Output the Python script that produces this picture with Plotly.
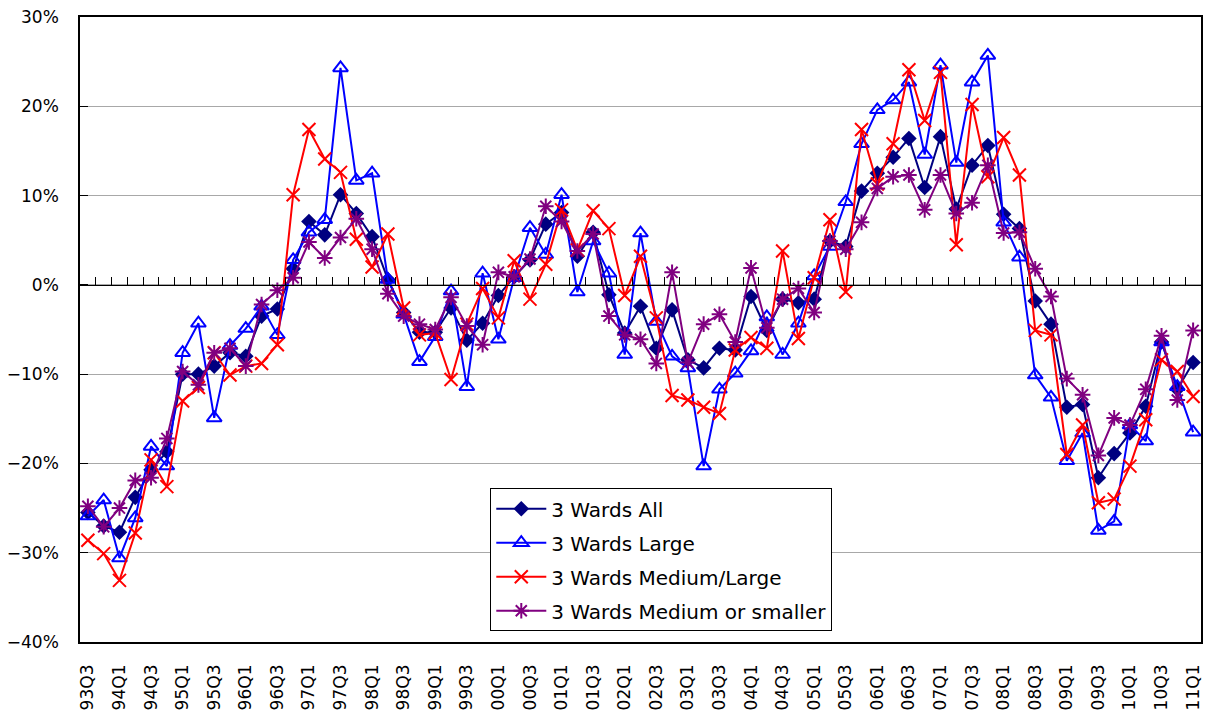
import plotly.graph_objects as go

quarters = [
    "93Q3", "93Q4",
    "94Q1", "94Q2", "94Q3", "94Q4",
    "95Q1", "95Q2", "95Q3", "95Q4",
    "96Q1", "96Q2", "96Q3", "96Q4",
    "97Q1", "97Q2", "97Q3", "97Q4",
    "98Q1", "98Q2", "98Q3", "98Q4",
    "99Q1", "99Q2", "99Q3", "99Q4",
    "00Q1", "00Q2", "00Q3", "00Q4",
    "01Q1", "01Q2", "01Q3", "01Q4",
    "02Q1", "02Q2", "02Q3", "02Q4",
    "03Q1", "03Q2", "03Q3", "03Q4",
    "04Q1", "04Q2", "04Q3", "04Q4",
    "05Q1", "05Q2", "05Q3", "05Q4",
    "06Q1", "06Q2", "06Q3", "06Q4",
    "07Q1", "07Q2", "07Q3", "07Q4",
    "08Q1", "08Q2", "08Q3", "08Q4",
    "09Q1", "09Q2", "09Q3", "09Q4",
    "10Q1", "10Q2", "10Q3", "10Q4",
    "11Q1",
]

tick_labels = [
    "93Q3", "94Q1", "94Q3", "95Q1", "95Q3", "96Q1", "96Q3", "97Q1", "97Q3",
    "98Q1", "98Q3", "99Q1", "99Q3", "00Q1", "00Q3", "01Q1", "01Q3", "02Q1",
    "02Q3", "03Q1", "03Q3", "04Q1", "04Q3", "05Q1", "05Q3", "06Q1", "06Q3",
    "07Q1", "07Q3", "08Q1", "08Q3", "09Q1", "09Q3", "10Q1", "10Q3", "11Q1",
]

wards_all = [
    -25.5, -27.0, -27.7, -23.8, -20.7, -18.7, -10.0, -10.0, -9.1, -7.6, -8.0, -3.5, -2.7,
    1.8, 7.1, 5.6, 10.1, 8.0, 5.4, 0.6, -3.1, -5.3, -5.3, -2.6,
    -6.2, -4.3, -1.2, 0.9, 2.8, 6.8, 8.1, 3.2, 5.9, -1.1, -5.4, -2.4,
    -7.1, -2.8, -8.4, -9.3, -7.1, -7.3, -1.3, -5.1, -1.6, -2.0, -1.6, 4.9, 4.3,
    10.5, 12.5, 14.3, 16.4, 10.9, 16.6, 8.5, 13.4, 15.6,
    7.9, 6.3, -1.8, -4.4, -13.7, -13.4, -21.6, -18.9, -16.6, -13.6, -6.4, -11.7, -8.7,
]

wards_large = [
    -25.9, -24.1, -30.6, -26.1, -18.1, -20.3, -7.6, -4.3, -14.9, -6.8, -4.9, -2.4, -5.6,
    2.8, 5.9, 7.3, 24.3, 11.7, 12.5, 0.6, -3.3, -8.6, -5.8, -0.7,
    -11.4, 1.3, -6.1, 0.8, 6.4, 3.4, 10.1, -0.8, 4.9, 1.3, -7.8, 5.8,
    -4.1, -8.0, -9.3, -20.3, -11.7, -9.9, -7.4, -3.6, -7.8, -4.3, 1.0, 4.3, 9.3,
    15.8, 19.6, 20.7, 22.7, 14.6, 24.6, 13.7, 22.7, 25.7,
    7.0, 3.1, -10.1, -12.6, -19.7, -16.6, -27.5, -26.5, -15.7, -17.5, -6.4, -11.4, -16.5,
]

wards_med_large = [
    -28.6, -30.1, -33.1, -27.8, -19.6, -22.6, -13.0, -11.5, -7.6, -10.1, -9.1, -8.8, -6.7,
    10.1, 17.4, 14.1, 12.6, 5.1, 2.0, 5.7, -2.6, -5.6, -5.4, -10.6,
    -4.4, -0.4, -3.7, 2.7, -1.6, 2.3, 8.4, 3.9, 8.3, 6.3, -1.2, 3.2,
    -3.7, -12.4, -12.9, -13.7, -14.4, -7.3, -5.9, -7.1, 3.8, -6.0, 0.8, 7.3, -0.8,
    17.4, 11.3, 15.8, 24.1, 18.4, 23.8, 4.5, 20.2, 12.1,
    16.5, 12.3, -5.1, -5.6, -19.0, -15.7, -24.4, -24.0, -20.3, -15.1, -8.4, -9.7, -12.5,
]

wards_med_small = [
    -24.8, -27.1, -25.0, -21.9, -21.6, -17.2, -9.7, -11.2, -7.6, -7.1, -9.1, -2.2, -0.6,
    0.8, 4.8, 3.0, 5.3, 7.4, 4.0, -1.0, -3.5, -4.4, -5.0, -1.4,
    -4.6, -6.7, 1.4, 0.9, 2.9, 8.8, 7.1, 3.8, 5.7, -3.5, -5.6, -6.1,
    -8.8, 1.4, -8.7, -4.4, -3.3, -6.4, 1.9, -4.8, -1.6, -0.4, -3.1, 4.9, 4.0,
    7.0, 10.8, 12.1, 12.3, 8.4, 12.3, 8.0, 9.2, 13.4,
    5.8, 5.9, 1.8, -1.3, -10.5, -12.3, -19.1, -14.9, -15.7, -11.7, -5.7, -12.9, -5.1,
]

series_names = [
    "3 Wards All",
    "3 Wards Large",
    "3 Wards Medium/Large",
    "3 Wards Medium or smaller",
]

FONT = "DejaVu Sans"
y_min, y_max = -40, 30

fig = go.Figure()

styles = [
    (wards_all, "#000080", dict(symbol="diamond", size=12, color="#000080",
                                line=dict(width=0))),
    (wards_large, "#0000FF", dict(symbol="triangle-up-open", size=13, color="#0000FF",
                                  line=dict(width=2, color="#0000FF"))),
    (wards_med_large, "#FF0000", dict(symbol="x-thin-open", size=13, color="#FF0000",
                                      line=dict(width=2, color="#FF0000"))),
    (wards_med_small, "#800080", dict(symbol="asterisk-open", size=13, color="#800080",
                                      line=dict(width=2, color="#800080"))),
]

for name, (vals, col, mk) in zip(series_names, styles):
    fig.add_trace(go.Scatter(
        x=quarters, y=vals, name=name, mode="lines+markers",
        line=dict(color=col, width=2), marker=mk,
        legendgroup=name,
    ))

# dummy trace so the overlay axis used for the zero-line ticks is drawn
fig.add_trace(go.Scatter(x=[None], y=[None], xaxis="x2", showlegend=False,
                         hoverinfo="skip"))

n = len(quarters)
fig.update_layout(
    width=1208, height=715,
    margin=dict(l=80, r=5, t=17, b=73),
    paper_bgcolor="white", plot_bgcolor="white",
    font=dict(family=FONT, size=17, color="black"),
    showlegend=True,
    legend=dict(
        x=0.366, y=0.246, xanchor="left", yanchor="top",
        bgcolor="white", bordercolor="black", borderwidth=1,
        font=dict(family=FONT, size=20, color="black"),
        tracegroupgap=5, itemwidth=50,
    ),
    xaxis=dict(
        type="category", range=[-0.5, n - 0.5],
        tickmode="array", tickvals=tick_labels, ticktext=tick_labels,
        tickangle=-90, ticks="", showgrid=False, zeroline=False,
        showline=True, linecolor="black", linewidth=1.5, mirror=True,
        tickfont=dict(family=FONT, size=17),
        ticklabelstandoff=14,
    ),
    xaxis2=dict(
        overlaying="x", anchor="free", position=(0 - y_min) / (y_max - y_min),
        range=[-0.5, n - 0.5], type="linear",
        tickmode="linear", tick0=-0.5, dtick=1,
        ticks="inside", ticklen=8, tickcolor="black", tickwidth=1,
        showticklabels=False, showgrid=False, zeroline=False,
        showline=True, linecolor="black", linewidth=1,
    ),
    yaxis=dict(
        range=[y_min, y_max], dtick=10, ticksuffix="%",
        showgrid=True, gridcolor="#a8a8a8", gridwidth=1,
        zeroline=False,
        ticks="inside", ticklen=8, tickcolor="black",
        showline=True, linecolor="black", linewidth=1.5, mirror=True,
        tickfont=dict(family=FONT, size=17),
        ticklabelstandoff=16,
    ),
)

fig.write_html(
    "out.html",
    config={"displayModeBar": False},
    post_script="document.body.style.margin='0';document.body.style.overflow='hidden';",
)
